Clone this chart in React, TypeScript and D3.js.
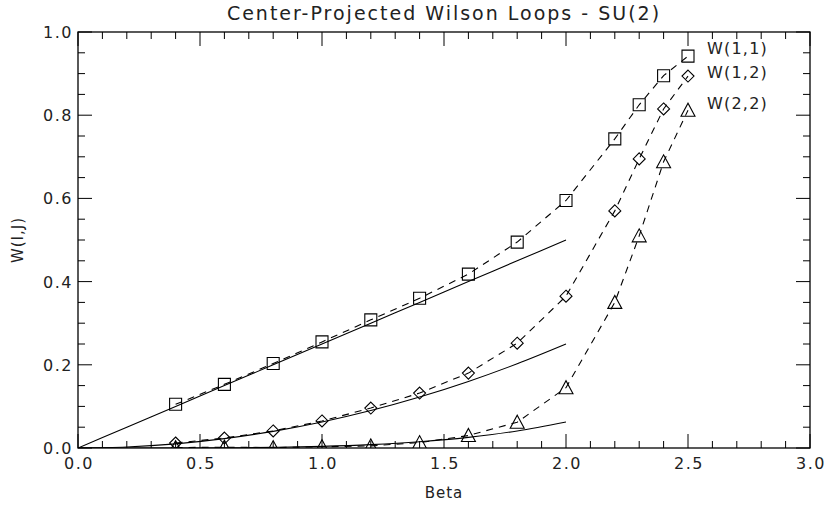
import React, { useRef, useEffect } from "react";
import * as d3 from "d3";

// measured loop values
const beta = [0.4, 0.6, 0.8, 1.0, 1.2, 1.4, 1.6, 1.8, 2.0, 2.2, 2.3, 2.4, 2.5];
const w11 = [0.105, 0.153, 0.203, 0.255, 0.308, 0.36, 0.418, 0.495, 0.595, 0.743, 0.825, 0.895, 0.942];
const w12 = [0.012, 0.024, 0.041, 0.065, 0.096, 0.132, 0.18, 0.252, 0.365, 0.57, 0.695, 0.815, 0.894];
const w22 = [0.001, 0.002, 0.001, 0.003, 0.005, 0.013, 0.03, 0.062, 0.145, 0.35, 0.51, 0.688, 0.812];

// strong coupling curves (solid)
const fitBeta = [0, 0.2, 0.4, 0.6, 0.8, 1.0, 1.2, 1.4, 1.6, 1.8, 2.0];
const fit11 = [0, 0.05, 0.1, 0.15, 0.2, 0.25, 0.3, 0.35, 0.4, 0.45, 0.5];
const fit12 = [0, 0.0025, 0.01, 0.0225, 0.04, 0.0625, 0.09, 0.1225, 0.16, 0.2025, 0.25];
const fit22 = [0, 0.0001, 0.0001, 0.0005, 0.0016, 0.0039, 0.0081, 0.015, 0.0256, 0.041, 0.0625];

const seriesNames = ["W(1,1)", "W(1,2)", "W(2,2)"];
const xTickValues = [0, 0.5, 1.0, 1.5, 2.0, 2.5, 3.0];
const yTickValues = [0, 0.2, 0.4, 0.6, 0.8, 1.0];

const TITLE = "Center-Projected Wilson Loops - SU(2)";
const X_LABEL = "Beta";
const Y_LABEL = "W(I,J)";

const FONT = "'DejaVu Sans', 'Liberation Sans', sans-serif";

function drawChart(svgEl: SVGSVGElement, width: number, height: number) {
  const margin = { top: 32, right: 17, bottom: 58, left: 78 };
  const innerW = width - margin.left - margin.right;
  const innerH = height - margin.top - margin.bottom;

  const svg = d3.select(svgEl);
  svg.selectAll("*").remove();

  const x = d3.scaleLinear().domain([0, 3]).range([margin.left, margin.left + innerW]);
  const y = d3.scaleLinear().domain([0, 1]).range([margin.top + innerH, margin.top]);

  const x0 = margin.left;
  const x1 = margin.left + innerW;
  const y0 = margin.top + innerH;
  const y1 = margin.top;

  svg
    .append("defs")
    .append("clipPath")
    .attr("id", "plot-clip")
    .append("rect")
    .attr("x", x0)
    .attr("y", y1)
    .attr("width", innerW)
    .attr("height", innerH);

  // frame
  svg
    .append("rect")
    .attr("x", x0)
    .attr("y", y1)
    .attr("width", innerW)
    .attr("height", innerH)
    .attr("fill", "none")
    .attr("stroke", "#000")
    .attr("stroke-width", 1.3);

  // ticks (inward, on all four sides)
  const major = 14;
  const minor = 7;
  const ticks = svg.append("g").attr("stroke", "#000").attr("stroke-width", 1);
  const xMinor = d3.range(0, 3.0001, 0.1);
  xMinor.forEach((v) => {
    const isMajor = Math.abs(v * 2 - Math.round(v * 2)) < 1e-6;
    const len = isMajor ? major : minor;
    ticks.append("line").attr("x1", x(v)).attr("x2", x(v)).attr("y1", y0).attr("y2", y0 - len);
    ticks.append("line").attr("x1", x(v)).attr("x2", x(v)).attr("y1", y1).attr("y2", y1 + len);
  });
  const yMinor = d3.range(0, 1.0001, 0.05);
  yMinor.forEach((v) => {
    const isMajor = Math.abs(v * 5 - Math.round(v * 5)) < 1e-6;
    const len = isMajor ? major : minor;
    ticks.append("line").attr("x1", x0).attr("x2", x0 + len).attr("y1", y(v)).attr("y2", y(v));
    ticks.append("line").attr("x1", x1).attr("x2", x1 - len).attr("y1", y(v)).attr("y2", y(v));
  });

  // tick labels
  svg
    .append("g")
    .selectAll("text")
    .data(xTickValues)
    .enter()
    .append("text")
    .attr("x", (d) => x(d) + 1)
    .attr("y", y0 + 21)
    .attr("text-anchor", "middle")
    .attr("font-family", FONT)
    .attr("font-size", 16)
    .attr("letter-spacing", 1.5)
    .attr("fill", "#222")
    .text((d) => d.toFixed(1));

  svg
    .append("g")
    .selectAll("text")
    .data(yTickValues)
    .enter()
    .append("text")
    .attr("x", x0 - 5)
    .attr("y", (d) => y(d) + 6)
    .attr("text-anchor", "end")
    .attr("font-family", FONT)
    .attr("font-size", 16)
    .attr("letter-spacing", 1.5)
    .attr("fill", "#222")
    .text((d) => d.toFixed(1));

  // titles
  svg
    .append("text")
    .attr("x", (x0 + x1) / 2)
    .attr("y", 20)
    .attr("text-anchor", "middle")
    .attr("font-family", FONT)
    .attr("font-size", 19)
    .attr("letter-spacing", 2)
    .attr("fill", "#222")
    .text(TITLE);

  svg
    .append("text")
    .attr("x", (x0 + x1) / 2)
    .attr("y", y0 + 50)
    .attr("text-anchor", "middle")
    .attr("font-family", FONT)
    .attr("font-size", 15)
    .attr("letter-spacing", 1)
    .attr("fill", "#222")
    .text(X_LABEL);

  svg
    .append("text")
    .attr("transform", `translate(23, ${(y0 + y1) / 2}) rotate(-90)`)
    .attr("text-anchor", "middle")
    .attr("font-family", FONT)
    .attr("font-size", 15)
    .attr("letter-spacing", 1)
    .attr("fill", "#222")
    .text(Y_LABEL);

  const plot = svg.append("g").attr("clip-path", "url(#plot-clip)");

  // solid curves
  const fitLine = d3
    .line<number>()
    .x((_, i) => x(fitBeta[i]))
    .y((d) => y(d))
    .curve(d3.curveMonotoneX);
  [fit11, fit12, fit22].forEach((vals) => {
    plot
      .append("path")
      .attr("d", fitLine(vals))
      .attr("fill", "none")
      .attr("stroke", "#000")
      .attr("stroke-width", 1.1);
  });

  // dashed data lines
  const dataLine = d3
    .line<number>()
    .x((_, i) => x(beta[i]))
    .y((d) => y(d));
  const series = [w11, w12, w22];
  series.forEach((vals) => {
    plot
      .append("path")
      .attr("d", dataLine(vals))
      .attr("fill", "none")
      .attr("stroke", "#000")
      .attr("stroke-width", 1.1)
      .attr("stroke-dasharray", "7,6");
  });

  // markers
  const square = (cx: number, cy: number) =>
    `M${cx - 6},${cy - 6}h12v12h-12Z`;
  const diamond = (cx: number, cy: number) =>
    `M${cx},${cy - 6}L${cx + 6},${cy}L${cx},${cy + 6}L${cx - 6},${cy}Z`;
  const triangle = (cx: number, cy: number) =>
    `M${cx - 7},${cy + 6}L${cx + 7},${cy + 6}L${cx},${cy - 7}Z`;
  const shapes = [square, diamond, triangle];

  series.forEach((vals, s) => {
    plot
      .append("g")
      .selectAll("path")
      .data(vals)
      .enter()
      .append("path")
      .attr("d", (d, i) => shapes[s](x(beta[i]), y(d)))
      .attr("fill", "none")
      .attr("stroke", "#000")
      .attr("stroke-width", 1.1);
  });

  // labels next to last points
  const labelOffsets = [-2, 2, -1];
  series.forEach((vals, s) => {
    svg
      .append("text")
      .attr("x", x(beta[beta.length - 1]) + 19)
      .attr("y", y(vals[vals.length - 1]) + labelOffsets[s])
      .attr("font-family", FONT)
      .attr("font-size", 16)
      .attr("letter-spacing", 1.2)
      .attr("fill", "#222")
      .text(seriesNames[s]);
  });
}

const App: React.FunctionComponent = function () {
  const ref = useRef<SVGSVGElement>(null);
  const width = 827;
  const height = 506;

  useEffect(() => {
    if (ref.current == null) {
      return;
    }
    drawChart(ref.current, width, height);
  }, []);

  return (
    <svg
      ref={ref}
      width={width}
      height={height}
      style={{ position: "absolute", left: 0, top: 0, background: "#fff" }}
    ></svg>
  );
};

export default App;
